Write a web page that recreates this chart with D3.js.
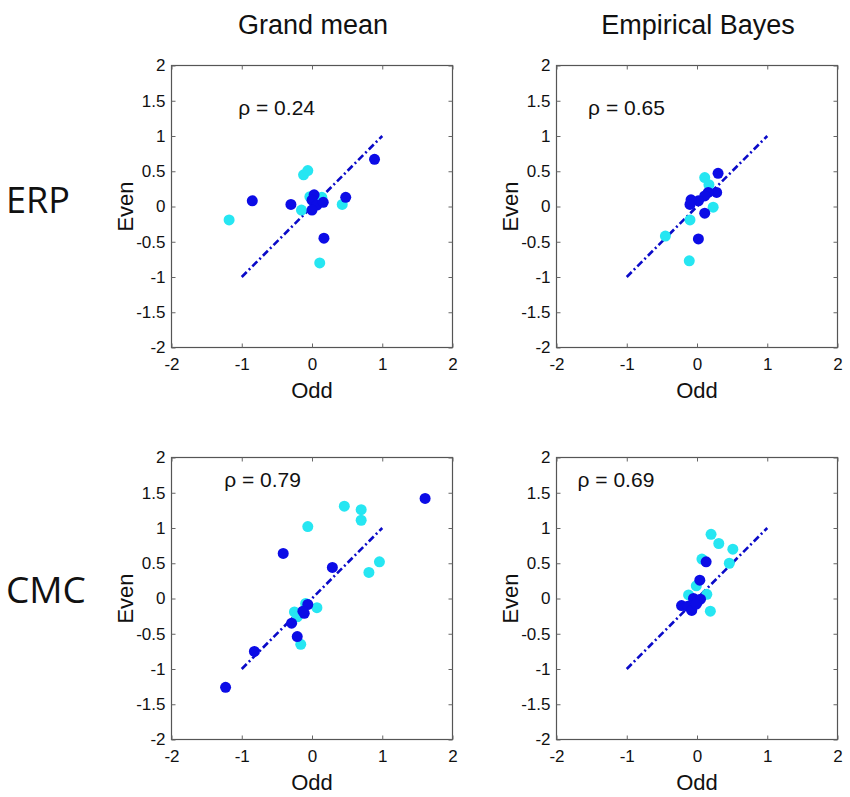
<!DOCTYPE html>
<html>
<head>
<meta charset="utf-8">
<script src="https://cdn.jsdelivr.net/npm/d3@7"></script>
<style>
    body { margin: 0; background: #fff; }
    text { font-family: "Liberation Sans", Arial, sans-serif; fill: #111; }
</style>
</head>
<body>
<div id="chart"></div>
<script>
//column / row names:
var columnTitles = ["Grand mean", "Empirical Bayes"];
var rowTitles = ["ERP", "CMC"];
var rhoLabels = [["ρ = 0.24", "ρ = 0.65"], ["ρ = 0.79", "ρ = 0.69"]];
var tickValues = [-2, -1.5, -1, -0.5, 0, 0.5, 1, 1.5, 2];
var yTickLabels = ["-2", "-1.5", "-1", "-0.5", "0", "0.5", "1", "1.5", "2"];
var xTickValues = [-2, -1, 0, 1, 2];
var xTickLabels = ["-2", "-1", "0", "1", "2"];
var identityLine = [[-1, -1], [1, 1]];

//points [odd, even], cyan series:
var erpGrandCyan = [[-1.18, -0.19], [-0.12, 0.45], [-0.06, 0.51], [-0.03, 0.14], [-0.15, -0.05],
    [0.43, 0.03], [0.11, -0.80], [0.14, 0.13]];
var erpBayesCyan = [[0.11, 0.41], [0.17, 0.31], [0.23, -0.01], [-0.10, -0.19], [-0.45, -0.42],
    [-0.11, -0.77]];
var cmcGrandCyan = [[0.46, 1.31], [0.70, 1.26], [0.70, 1.11], [-0.06, 1.02], [0.96, 0.52],
    [0.81, 0.37], [0.07, -0.13], [-0.09, -0.07], [-0.25, -0.19], [-0.21, -0.26], [-0.16, -0.65]];
var cmcBayesCyan = [[0.20, 0.91], [0.31, 0.78], [0.51, 0.70], [0.46, 0.50], [0.07, 0.56],
    [-0.01, 0.18], [0.14, 0.06], [0.19, -0.18], [-0.12, 0.05]];

//points [odd, even], dark blue series:
var erpGrandBlue = [[0.89, 0.67], [-0.85, 0.08], [-0.30, 0.03], [0.03, 0.165], [0.0, 0.09],
    [0.07, 0.02], [0.16, 0.06], [0.0, -0.05], [0.48, 0.13], [0.17, -0.45]];
var erpBayesBlue = [[0.30, 0.47], [0.28, 0.20], [0.16, 0.20], [0.11, 0.15], [0.02, 0.08],
    [-0.085, 0.095], [-0.10, 0.03], [0.11, -0.095], [0.02, -0.46]];
var cmcGrandBlue = [[1.61, 1.42], [-0.41, 0.64], [0.29, 0.44], [-0.06, -0.085], [-0.11, -0.21],
    [-0.13, -0.18], [-0.29, -0.35], [-0.21, -0.54], [-0.82, -0.75], [-1.23, -1.26]];
var cmcBayesBlue = [[0.13, 0.52], [0.04, 0.26], [-0.22, -0.10], [-0.13, -0.11], [-0.075, -0.17],
    [-0.05, 0.0], [0.01, -0.04], [0.05, -0.01], [-0.01, -0.08]];

var panelData = [
    [{cyan: erpGrandCyan, blue: erpGrandBlue}, {cyan: erpBayesCyan, blue: erpBayesBlue}],
    [{cyan: cmcGrandCyan, blue: cmcGrandBlue}, {cyan: cmcBayesCyan, blue: cmcBayesBlue}]
];

var width = 850;
var height = 797;
var colLeft = [171.5, 556.5];
var rowTop = [65.5, 457.5];
var panelWidth = 281;
var panelHeight = 282;
var cyanColor = "#26e6f2";
var blueColor = "#0c0ce6";
var lineColor = "#0a0ac8";

var svg = d3.select("#chart")
    .append("svg")
    .attr("width", width)
    .attr("height", height);

//column titles
columnTitles.forEach(function (t, c) {
    svg.append("text")
        .attr("x", colLeft[c] + panelWidth / 2 + 1)
        .attr("y", 34)
        .attr("text-anchor", "middle")
        .style("font-size", "27px")
        .text(t);
});

//row titles
rowTitles.forEach(function (t, r) {
    svg.append("text")
        .attr("x", 6)
        .attr("y", r === 0 ? 213 : 603)
        .style("font-family", "'Open Sans', sans-serif")
        .style("font-size", r === 0 ? "36px" : "37px")
        .text(t);
});

function drawPanel(r, c) {
    var data = panelData[r][c];
    var g = svg.append("g")
        .attr("transform", "translate(" + colLeft[c] + "," + rowTop[r] + ")");

    var xScale = d3.scaleLinear().domain([-2, 2]).range([0, panelWidth]);
    var yScale = d3.scaleLinear().domain([-2, 2]).range([panelHeight, 0]);

    //box
    g.append("rect")
        .attr("width", panelWidth)
        .attr("height", panelHeight)
        .attr("fill", "none")
        .attr("stroke", "#555")
        .attr("stroke-width", 1.2);

    //axes, ticks pointing inwards on all sides
    var xAxis = d3.axisBottom(xScale).tickValues(xTickValues).tickSize(-4)
        .tickPadding(10).tickFormat(function (d, i) { return xTickLabels[i]; });
    var xTop = d3.axisTop(xScale).tickValues(xTickValues).tickSize(-4).tickFormat("");
    var yAxis = d3.axisLeft(yScale).tickValues(tickValues).tickSize(-4)
        .tickPadding(6).tickFormat(function (d, i) { return yTickLabels[i]; });
    var yRight = d3.axisRight(yScale).tickValues(tickValues).tickSize(-4).tickFormat("");

    function styleAxis(sel) {
        sel.select(".domain").remove();
        sel.selectAll("line").attr("stroke", "#666");
        sel.selectAll("text")
            .style("font-family", "'Liberation Sans', Arial, sans-serif")
            .style("font-size", "17px")
            .attr("fill", "#111");
    }

    g.append("g").attr("transform", "translate(0," + panelHeight + ")").call(xAxis).call(styleAxis);
    g.append("g").call(xTop).call(styleAxis);
    g.append("g").call(yAxis).call(styleAxis);
    g.append("g").attr("transform", "translate(" + panelWidth + ",0)").call(yRight).call(styleAxis);

    //axis labels
    g.append("text")
        .attr("x", panelWidth / 2)
        .attr("y", panelHeight + 50)
        .attr("text-anchor", "middle")
        .style("font-size", "22px")
        .text("Odd");
    g.append("text")
        .attr("transform", "translate(-39," + (panelHeight / 2) + ") rotate(-90)")
        .attr("text-anchor", "middle")
        .style("font-size", "22px")
        .text("Even");

    //rho
    g.append("text")
        .attr("x", r === 0 ? xScale(c === 0 ? -1.05 : -1.55) : xScale(c === 0 ? -1.25 : -1.7))
        .attr("y", r === 0 ? yScale(1.40) : yScale(1.68))
        .attr("dy", "0.35em")
        .style("font-size", "21px")
        .text(rhoLabels[r][c]);

    //identity line
    var line = d3.line()
        .x(function (d) { return xScale(d[0]); })
        .y(function (d) { return yScale(d[1]); });
    g.append("path")
        .datum(identityLine)
        .attr("d", line)
        .attr("fill", "none")
        .attr("stroke", lineColor)
        .attr("stroke-width", 2.6)
        .attr("stroke-dasharray", "7,3,2,3");

    //points
    g.selectAll(".cyan")
        .data(data.cyan)
        .enter().append("circle")
        .attr("class", "cyan")
        .attr("r", 5.5)
        .attr("cx", function (d) { return xScale(d[0]); })
        .attr("cy", function (d) { return yScale(d[1]); })
        .style("fill", cyanColor);

    g.selectAll(".blue")
        .data(data.blue)
        .enter().append("circle")
        .attr("class", "blue")
        .attr("r", 5.5)
        .attr("cx", function (d) { return xScale(d[0]); })
        .attr("cy", function (d) { return yScale(d[1]); })
        .style("fill", blueColor);
}

for (var r = 0; r < 2; r++) {
    for (var c = 0; c < 2; c++) {
        drawPanel(r, c);
    }
}
</script>
</body>
</html>
